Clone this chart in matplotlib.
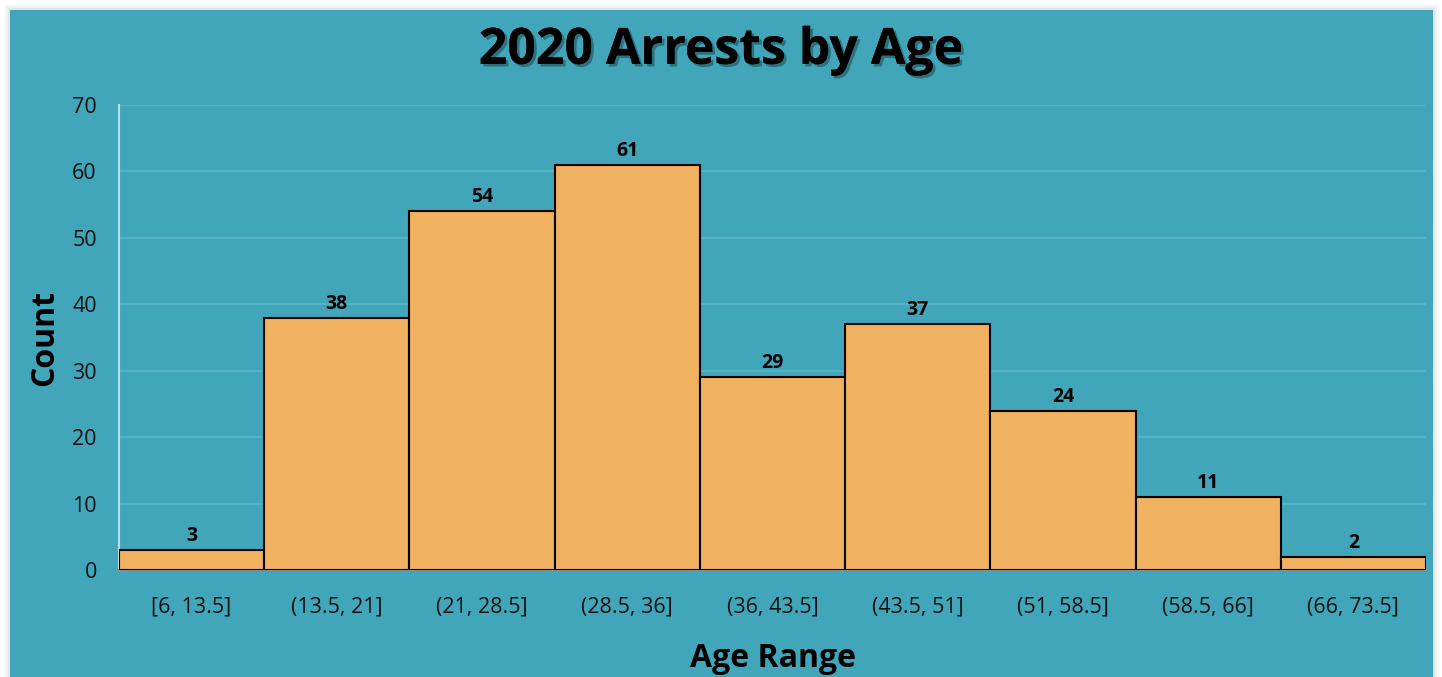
import matplotlib.pyplot as plt
import matplotlib.patheffects as pe
from matplotlib.patches import Rectangle

# bins and counts
age_bins = ["[6, 13.5]", "(13.5, 21]", "(21, 28.5]", "(28.5, 36]", "(36, 43.5]",
            "(43.5, 51]", "(51, 58.5]", "(58.5, 66]", "(66, 73.5]"]
counts = [3, 38, 54, 61, 29, 37, 24, 11, 2]
y_ticks = [0, 10, 20, 30, 40, 50, 60, 70]

TEAL = '#41a6b9'
ORANGE = '#f0b160'
FONT = ['Open Sans', 'DejaVu Sans']

plt.rcParams['font.family'] = FONT

fig = plt.figure(figsize=(14.42, 6.77), dpi=100)
fig.patch.set_facecolor('white')

# teal panel with a soft shadow (drawn below the axes)
W, H = 1442, 677
for k, a in enumerate([0.05, 0.08, 0.12]):
    d = 6 - 2 * k
    fig.patches.append(Rectangle(((10 - d) / W, 0), (1423 + 2 * d) / W, (667 + d) / H,
                                 transform=fig.transFigure, facecolor='#7a9aa0',
                                 alpha=a, edgecolor='none', zorder=-2))
fig.patches.append(Rectangle((10 / W, 0), 1423 / W, 667 / H, transform=fig.transFigure,
                             facecolor=TEAL, edgecolor='none', zorder=-1))

ax = fig.add_axes([119 / W, 107 / H, (1426 - 119) / W, (570 - 105) / H])
ax.set_facecolor('none')

x = range(len(counts))
bars = ax.bar(x, counts, width=1.0, color=ORANGE, edgecolor='black', linewidth=1.5, zorder=3)

for xi, c in zip(x, counts):
    ax.text(xi, c + 0.6, str(c), ha='center', va='bottom', fontsize=14,
            fontweight='bold', color='black', zorder=4)

ax.set_xlim(-0.5, len(counts) - 0.5)
ax.set_ylim(0, 70)
ax.set_yticks(y_ticks)
ax.set_xticks(list(x))
ax.set_xticklabels(age_bins)
ax.tick_params(axis='both', length=0, labelsize=15.5, colors='#111111')
ax.tick_params(axis='x', pad=19)
ax.tick_params(axis='y', pad=16)

ax.grid(axis='y', color='#5ab6c7', linewidth=1.2, zorder=0)
for s in ['top', 'right']:
    ax.spines[s].set_visible(False)
ax.spines['left'].set_color('#b9dfe6')
ax.spines['left'].set_linewidth(1.5)
ax.spines['bottom'].set_color('#7f8c8f')
ax.spines['bottom'].set_linewidth(2)

ax.set_ylabel('Count', fontsize=23, fontweight='bold', labelpad=8)
ax.set_xlabel('Age Range', fontsize=23, fontweight='bold', labelpad=18)

fig.text(0.5, 0.925, '2020 Arrests by Age', ha='center', va='center', fontsize=36,
         fontweight='bold', color='black',
         path_effects=[pe.withSimplePatchShadow(offset=(2, -2), shadow_rgbFace='#1d4f58', alpha=0.6),
                       pe.Normal()])

fig.savefig('out.png', dpi=100, facecolor=fig.get_facecolor())
